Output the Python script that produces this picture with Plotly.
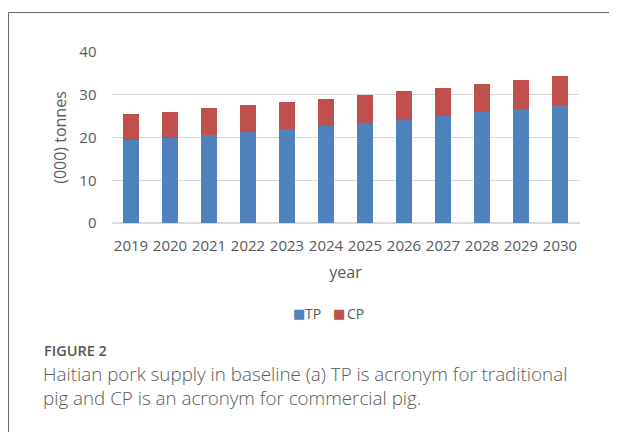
import plotly.graph_objects as go

years = ["2019", "2020", "2021", "2022", "2023", "2024", "2025", "2026", "2027", "2028", "2029", "2030"]
tp = [19.4, 20.0, 20.6, 21.4, 22.0, 22.8, 23.4, 24.2, 25.1, 25.9, 26.7, 27.6]
total = [25.4, 26.0, 26.8, 27.5, 28.3, 29.1, 29.9, 30.8, 31.6, 32.6, 33.5, 34.5]
cp = [round(t - p, 2) for t, p in zip(total, tp)]
y_ticks = [0, 10, 20, 30, 40]
series_names = ["TP", "CP"]
series_colors = ["#4F81BD", "#C0504D"]
caption_lines = ["Haitian pork supply in baseline (a) TP is acronym for traditional",
                 "pig and CP is an acronym for commercial pig."]

W, H = 617, 432
OX, OY = 8, 8  # page body margin offset
TXT = "#595959"
FONT = "Open Sans"


def px(x):
    return (x - OX) / W


def py(y):
    return (H - (y - OY)) / H


fig = go.Figure()
fig.add_bar(x=years, y=tp, name=series_names[0], marker=dict(color=series_colors[0], line=dict(width=0)))
fig.add_bar(x=years, y=cp, name=series_names[1], marker=dict(color=series_colors[1], line=dict(width=0)))

fig.update_layout(
    width=W, height=H,
    margin=dict(l=0, r=0, t=0, b=0, autoexpand=False),
    paper_bgcolor="white", plot_bgcolor="white",
    barmode="stack", bargap=0.59,
    font=dict(family=FONT, color=TXT, size=15),
    xaxis=dict(domain=[px(111.5), px(579.5)], showline=False, ticks="", automargin=False,
               tickfont=dict(size=15, color=TXT), ticklabelstandoff=12,
               title=dict(text="year", font=dict(size=16, color=TXT), standoff=12)),
    yaxis=dict(domain=[py(223), py(52)], range=[0, 40], tickvals=y_ticks,
               showgrid=True, gridcolor="#D9D9D9", gridwidth=1, zeroline=True, automargin=False,
               zerolinecolor="#D9D9D9", ticks="", ticklabelstandoff=14,
               tickfont=dict(size=15, color=TXT),
               title=dict(text="(000) tonnes", font=dict(size=16, color=TXT), standoff=8)),
    showlegend=False,
)

# legend drawn as text entries
leg_y = py(313)
leg_items = [(292.5, 303), (333, 345)]
for (sq_x, tx_x), name, col in zip(leg_items, series_names, series_colors):
    fig.add_annotation(text="■", xref="paper", yref="paper", x=px(sq_x - 2), y=leg_y,
                       xanchor="left", yanchor="middle", showarrow=False,
                       font=dict(family="DejaVu Sans", size=13, color=col))
    fig.add_annotation(text=name, xref="paper", yref="paper", x=px(tx_x), y=leg_y,
                       xanchor="left", yanchor="middle", showarrow=False,
                       font=dict(family=FONT, size=14, color=TXT))

fig.add_shape(type="line", xref="paper", yref="paper", x0=px(8.5), x1=1.05, y0=py(12.5), y1=py(12.5),
              line=dict(color="#666666", width=1))
fig.add_shape(type="line", xref="paper", yref="paper", x0=px(8.5), x1=px(8.5), y0=py(12.5), y1=-0.05,
              line=dict(color="#666666", width=1))

fig.add_annotation(text="FIGURE 2", xref="paper", yref="paper", x=px(42), y=py(350),
                   xanchor="left", yanchor="middle", showarrow=False,
                   font=dict(family=FONT, size=14.5, color="#555555", weight=600))
fig.add_annotation(text="<br>".join(caption_lines), xref="paper", yref="paper", x=px(41), y=py(386),
                   xanchor="left", yanchor="middle", align="left", showarrow=False,
                   font=dict(family=FONT, size=18.8, color="#5a5a5a", weight=300))

fig.write_html("out.html")
